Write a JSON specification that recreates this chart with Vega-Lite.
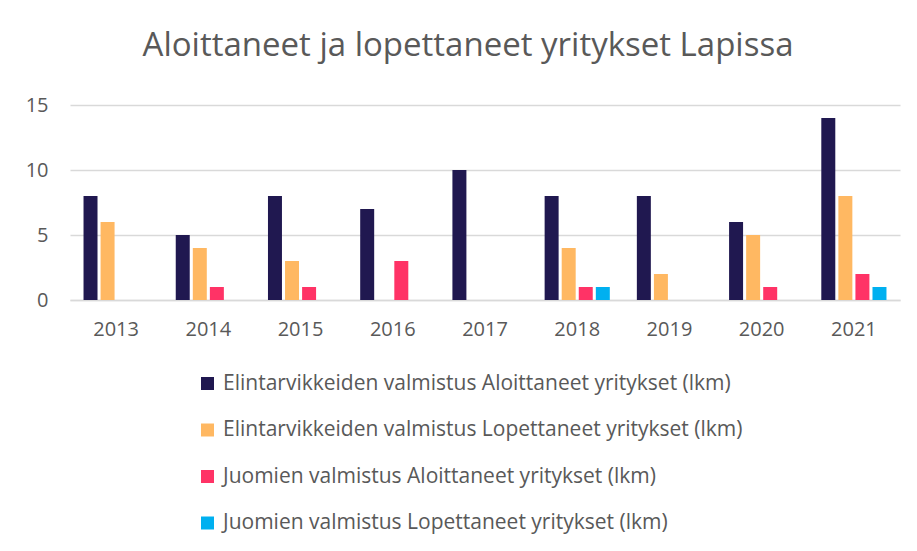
{
  "$schema": "https://vega.github.io/schema/vega-lite/v6.json",
  "width": 830,
  "height": 195,
  "autosize": {"type": "none"},
  "padding": {"left": 70, "top": 105, "right": 17, "bottom": 251},
  "background": "white",
  "title": {
    "text": "Aloittaneet ja lopettaneet yritykset Lapissa",
    "font": "Open Sans",
    "fontSize": 33,
    "fontWeight": "normal",
    "color": "#595959",
    "anchor": "middle",
    "dx": -17,
    "offset": 32
  },
  "data": {
    "values": [
      {"year": "2013", "series": "Elintarvikkeiden valmistus Aloittaneet yritykset (lkm)", "value": 8},
      {"year": "2013", "series": "Elintarvikkeiden valmistus Lopettaneet yritykset (lkm)", "value": 6},
      {"year": "2013", "series": "Juomien valmistus Aloittaneet yritykset (lkm)", "value": 0},
      {"year": "2013", "series": "Juomien valmistus Lopettaneet yritykset (lkm)", "value": 0},
      {"year": "2014", "series": "Elintarvikkeiden valmistus Aloittaneet yritykset (lkm)", "value": 5},
      {"year": "2014", "series": "Elintarvikkeiden valmistus Lopettaneet yritykset (lkm)", "value": 4},
      {"year": "2014", "series": "Juomien valmistus Aloittaneet yritykset (lkm)", "value": 1},
      {"year": "2014", "series": "Juomien valmistus Lopettaneet yritykset (lkm)", "value": 0},
      {"year": "2015", "series": "Elintarvikkeiden valmistus Aloittaneet yritykset (lkm)", "value": 8},
      {"year": "2015", "series": "Elintarvikkeiden valmistus Lopettaneet yritykset (lkm)", "value": 3},
      {"year": "2015", "series": "Juomien valmistus Aloittaneet yritykset (lkm)", "value": 1},
      {"year": "2015", "series": "Juomien valmistus Lopettaneet yritykset (lkm)", "value": 0},
      {"year": "2016", "series": "Elintarvikkeiden valmistus Aloittaneet yritykset (lkm)", "value": 7},
      {"year": "2016", "series": "Elintarvikkeiden valmistus Lopettaneet yritykset (lkm)", "value": 0},
      {"year": "2016", "series": "Juomien valmistus Aloittaneet yritykset (lkm)", "value": 3},
      {"year": "2016", "series": "Juomien valmistus Lopettaneet yritykset (lkm)", "value": 0},
      {"year": "2017", "series": "Elintarvikkeiden valmistus Aloittaneet yritykset (lkm)", "value": 10},
      {"year": "2017", "series": "Elintarvikkeiden valmistus Lopettaneet yritykset (lkm)", "value": 0},
      {"year": "2017", "series": "Juomien valmistus Aloittaneet yritykset (lkm)", "value": 0},
      {"year": "2017", "series": "Juomien valmistus Lopettaneet yritykset (lkm)", "value": 0},
      {"year": "2018", "series": "Elintarvikkeiden valmistus Aloittaneet yritykset (lkm)", "value": 8},
      {"year": "2018", "series": "Elintarvikkeiden valmistus Lopettaneet yritykset (lkm)", "value": 4},
      {"year": "2018", "series": "Juomien valmistus Aloittaneet yritykset (lkm)", "value": 1},
      {"year": "2018", "series": "Juomien valmistus Lopettaneet yritykset (lkm)", "value": 1},
      {"year": "2019", "series": "Elintarvikkeiden valmistus Aloittaneet yritykset (lkm)", "value": 8},
      {"year": "2019", "series": "Elintarvikkeiden valmistus Lopettaneet yritykset (lkm)", "value": 2},
      {"year": "2019", "series": "Juomien valmistus Aloittaneet yritykset (lkm)", "value": 0},
      {"year": "2019", "series": "Juomien valmistus Lopettaneet yritykset (lkm)", "value": 0},
      {"year": "2020", "series": "Elintarvikkeiden valmistus Aloittaneet yritykset (lkm)", "value": 6},
      {"year": "2020", "series": "Elintarvikkeiden valmistus Lopettaneet yritykset (lkm)", "value": 5},
      {"year": "2020", "series": "Juomien valmistus Aloittaneet yritykset (lkm)", "value": 1},
      {"year": "2020", "series": "Juomien valmistus Lopettaneet yritykset (lkm)", "value": 0},
      {"year": "2021", "series": "Elintarvikkeiden valmistus Aloittaneet yritykset (lkm)", "value": 14},
      {"year": "2021", "series": "Elintarvikkeiden valmistus Lopettaneet yritykset (lkm)", "value": 8},
      {"year": "2021", "series": "Juomien valmistus Aloittaneet yritykset (lkm)", "value": 2},
      {"year": "2021", "series": "Juomien valmistus Lopettaneet yritykset (lkm)", "value": 1}
    ]
  },
  "mark": {"type": "bar"},
  "encoding": {
    "x": {
      "field": "year",
      "type": "nominal",
      "scale": {"paddingInner": 0.26, "paddingOuter": 0.13},
      "axis": {
        "title": null,
        "labelAngle": 0,
        "labelFont": "Open Sans",
        "labelFontSize": 20,
        "labelColor": "#595959",
        "labelPadding": 19,
        "ticks": false,
        "domain": true,
        "domainColor": "#d9d9d9",
        "domainWidth": 1.5
      }
    },
    "xOffset": {
      "field": "series",
      "type": "nominal",
      "scale": {"paddingInner": 0.18, "paddingOuter": 0.09}
    },
    "y": {
      "field": "value",
      "type": "quantitative",
      "scale": {"domain": [0, 15], "nice": false},
      "axis": {
        "title": null,
        "values": [0, 5, 10, 15],
        "labelFont": "Open Sans",
        "labelFontSize": 20,
        "labelColor": "#595959",
        "labelPadding": 22,
        "ticks": false,
        "domain": false,
        "grid": true,
        "gridColor": "#d9d9d9",
        "gridWidth": 1.5
      }
    },
    "color": {
      "field": "series",
      "type": "nominal",
      "scale": {
        "domain": [
          "Elintarvikkeiden valmistus Aloittaneet yritykset (lkm)",
          "Elintarvikkeiden valmistus Lopettaneet yritykset (lkm)",
          "Juomien valmistus Aloittaneet yritykset (lkm)",
          "Juomien valmistus Lopettaneet yritykset (lkm)"
        ],
        "range": ["#201850", "#ffb862", "#ff3366", "#00b0f0"]
      },
      "legend": {
        "title": null,
        "orient": "none",
        "legendX": 127,
        "legendY": 268,
        "direction": "vertical",
        "symbolType": "square",
        "symbolSize": 169,
        "symbolStrokeWidth": 0,
        "symbolOpacity": 1,
        "labelFont": "Open Sans",
        "labelFontSize": 21,
        "labelColor": "#595959",
        "labelOffset": 5,
        "labelLimit": 700,
        "rowPadding": 24.5
      }
    }
  },
  "config": {"view": {"stroke": null}}
}
